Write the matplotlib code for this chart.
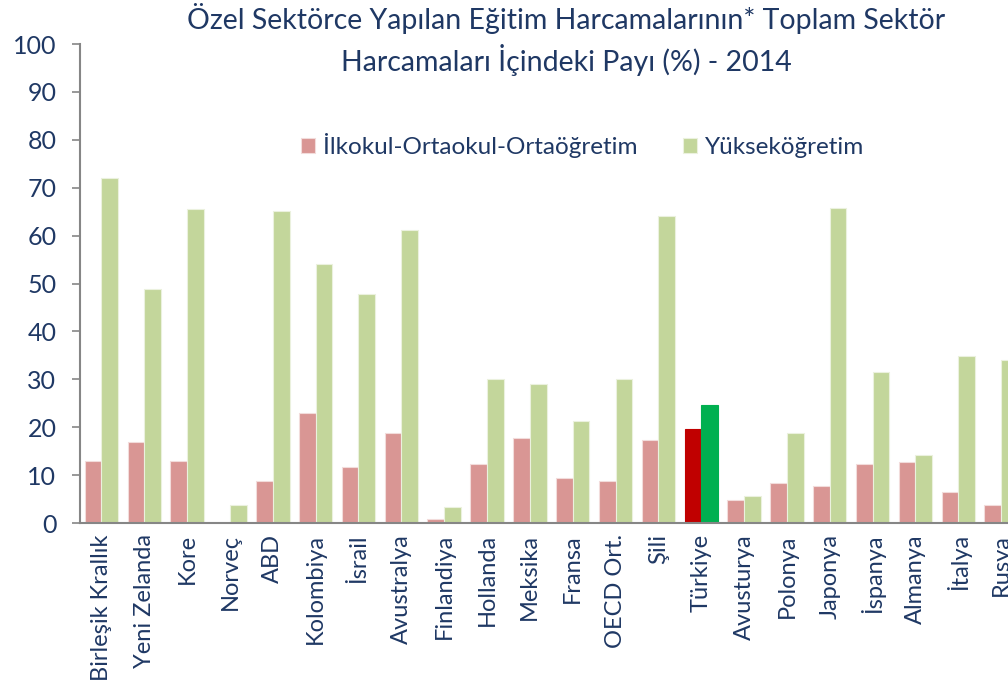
import matplotlib.pyplot as plt
import numpy as np

# Ülkeler ve değerler (%), 2014
ulkeler = ['Birleşik Krallık', 'Yeni Zelanda', 'Kore', 'Norveç', 'ABD', 'Kolombiya',
           'İsrail', 'Avustralya', 'Finlandiya', 'Hollanda', 'Meksika', 'Fransa',
           'OECD Ort.', 'Şili', 'Türkiye', 'Avusturya', 'Polonya', 'Japonya',
           'İspanya', 'Almanya', 'İtalya', 'Rusya']
ilk_orta = [13.0, 17.0, 13.0, 0.0, 8.7, 22.9, 11.6, 18.7, 0.8, 12.4, 17.7, 9.4,
            8.7, 17.3, 19.6, 4.8, 8.4, 7.7, 12.4, 12.7, 6.4, 3.7]
yuksek = [72.1, 48.9, 65.5, 3.7, 65.2, 54.1, 47.9, 61.1, 3.4, 30.0, 29.0, 21.3,
          30.0, 64.1, 24.6, 5.7, 18.7, 65.8, 31.6, 14.3, 34.9, 34.0]
vurgu = 'Türkiye'

navy = '#1F3864'
plt.rcParams['font.family'] = ['Lato', 'DejaVu Sans']

fig = plt.figure(figsize=(10.08, 6.91), dpi=100)
ax = fig.add_axes([0.0794, 0.2431, 0.935, 0.6932])

x = np.arange(len(ulkeler))
w = 0.39
c1 = ['#C00000' if u == vurgu else '#D99694' for u in ulkeler]
c2 = ['#00B050' if u == vurgu else '#C3D69B' for u in ulkeler]
e1 = ['#C00000' if u == vurgu else '#F2DCDB' for u in ulkeler]
e2 = ['#00B050' if u == vurgu else '#EBF1DE' for u in ulkeler]
b1 = ax.bar(x - w / 2, ilk_orta, w, color=c1, edgecolor=e1, linewidth=0.8,
            label='İlkokul-Ortaokul-Ortaöğretim')
b2 = ax.bar(x + w / 2, yuksek, w, color=c2, edgecolor=e2, linewidth=0.8,
            label='Yükseköğretim')

ax.set_xlim(-0.5, len(ulkeler) - 0.5)
ax.set_ylim(0, 100)
ax.set_yticks(range(0, 101, 10))
ax.set_xticks(x)
ax.set_xticklabels(ulkeler, rotation=90, fontsize=17, color=navy)
ax.tick_params(axis='y', labelsize=18, labelcolor=navy, color='#868686',
               length=6, width=1.2, pad=11)
ax.tick_params(axis='x', length=0, pad=8)
for s in ['top', 'right']:
    ax.spines[s].set_visible(False)
for s in ['left', 'bottom']:
    ax.spines[s].set_color('#868686')
    ax.spines[s].set_linewidth(1.5)

fig.legend(handles=[b1, b2], loc='center', bbox_to_anchor=(0.578, 0.789),
           ncol=2, frameon=False, fontsize=17.5, labelcolor=navy,
           handlelength=0.58, handleheight=0.55, handletextpad=0.33,
           columnspacing=1.85)

fig.text(0.562, 0.995,
         'Özel Sektörce Yapılan Eğitim Harcamalarının* Toplam Sektör\n'
         'Harcamaları İçindeki Payı (%) - 2014',
         ha='center', va='top', fontsize=20.5, color=navy, linespacing=1.35)

plt.savefig('out.png', dpi=100)
